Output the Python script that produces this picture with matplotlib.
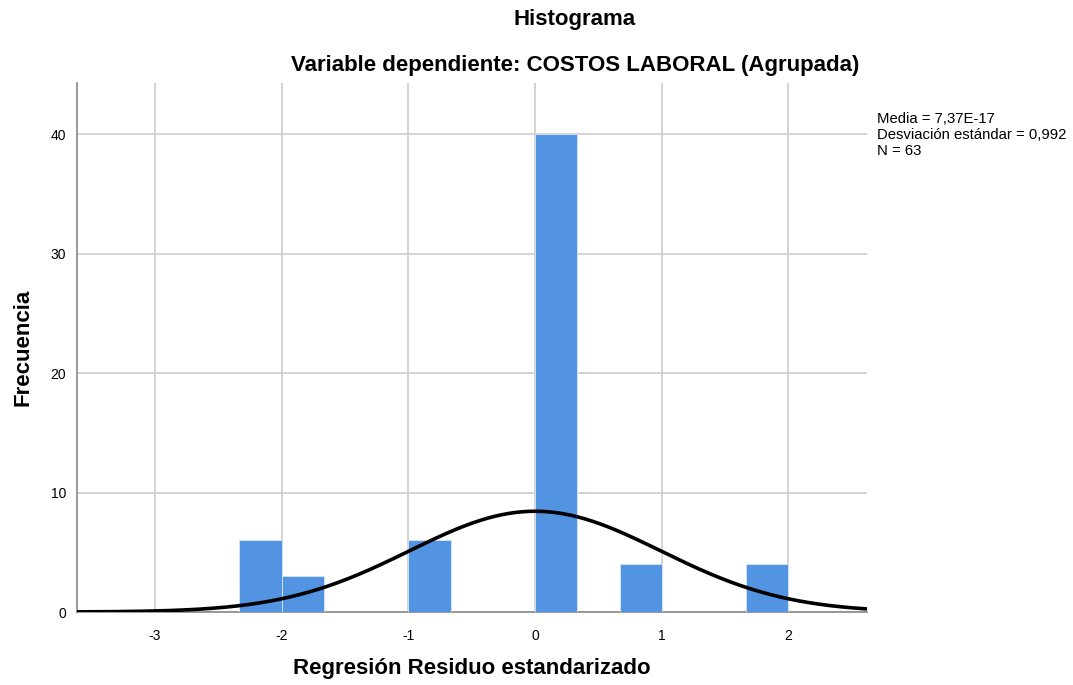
import numpy as np
import matplotlib
matplotlib.use("Agg")
import matplotlib.pyplot as plt

plt.rcParams['font.family'] = ['Liberation Sans', 'DejaVu Sans']
plt.rcParams['axes.unicode_minus'] = False

# bins (left edge, count); width of each bin
bin_left = [-2.333, -2.0, -1.0, 0.0, 0.667, 1.667]
counts = [6, 3, 6, 40, 4, 4]
bin_width = 0.333
mean = 7.37e-17
sd = 0.992
n = 63

fig = plt.figure(figsize=(10.73, 6.85), dpi=100)
ax = fig.add_axes([77/1073, 1 - 612/685, 790/1073, 529/685])

ax.bar(bin_left, counts, width=bin_width, align='edge', color='#5294e2',
       edgecolor='#d8e6f7', linewidth=0.6, zorder=3)

xs = np.linspace(-3.62, 2.62, 400)
ys = n * bin_width * np.exp(-0.5 * ((xs - mean) / sd) ** 2) / (sd * np.sqrt(2 * np.pi))
ax.plot(xs, ys, color='black', lw=2.6, zorder=4)

ax.set_xlim(-3.615, 2.62)
ax.set_ylim(0, 44.3)
ax.set_xticks([-3, -2, -1, 0, 1, 2])
ax.set_yticks([0, 10, 20, 30, 40])
ax.grid(True, color='#cccccc', lw=1.2, zorder=0)
ax.tick_params(length=0, labelsize=10)
ax.tick_params(axis='x', pad=12)
ax.tick_params(axis='y', pad=8)
for s in ['top', 'right']:
    ax.spines[s].set_visible(False)
for s in ['left', 'bottom']:
    ax.spines[s].set_color('#888888')
    ax.spines[s].set_linewidth(1.2)

ax.set_xlabel('Regresión Residuo estandarizado', fontsize=16, fontweight='bold', labelpad=11)
ax.set_ylabel('Frecuencia', fontsize=16, fontweight='bold', labelpad=12)

fig.text(575/1073, 1 - 20/685, 'Histograma', ha='center', va='center',
         fontsize=16, fontweight='bold')
fig.text(575/1073, 1 - 65/685, 'Variable dependiente: COSTOS LABORAL (Agrupada)',
         ha='center', va='center', fontsize=16, fontweight='bold')
fig.text(877/1073, 1 - 135/685,
         'Media = 7,37E-17\nDesviación estándar = 0,992\nN = 63',
         ha='left', va='center', fontsize=10.7, linespacing=1.18)

fig.savefig('out.png', dpi=100)
